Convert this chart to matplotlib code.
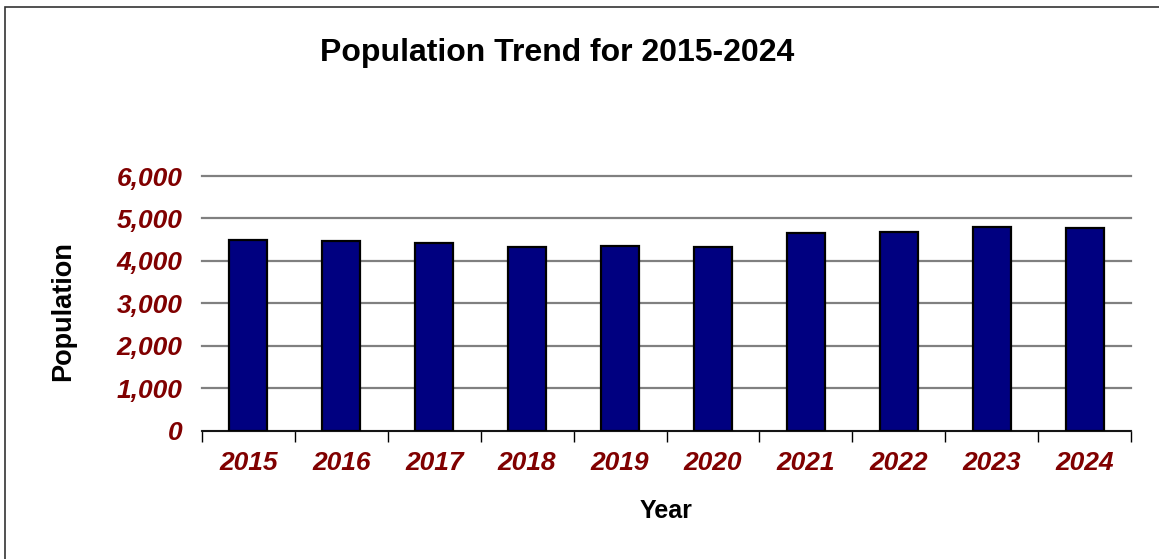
import numpy as np
import matplotlib.pyplot as plt
from matplotlib.patches import Rectangle
from matplotlib.ticker import FuncFormatter

# Population by year
years = ["2015", "2016", "2017", "2018", "2019", "2020", "2021", "2022", "2023", "2024"]
population = [4490, 4460, 4420, 4330, 4350, 4330, 4650, 4690, 4795, 4780]
y_ticks = [0, 1000, 2000, 3000, 4000, 5000, 6000]

W, H = 1159, 559
plt.rcParams["font.family"] = ["Liberation Sans", "DejaVu Sans"]

fig = plt.figure(figsize=(W / 100, H / 100), dpi=100)
fig.patch.set_facecolor("white")

# outer frame of the chart area
fig.add_artist(Rectangle((5 / W, -0.1), 1.2, 1 - 7 / H + 0.1, transform=fig.transFigure,
                         fill=False, edgecolor="#333333", linewidth=1.2))

ax = fig.add_axes([202 / W, 1 - 430.5 / H, (1131 - 202) / W, (430.5 - 176) / H])
x = np.arange(len(years))
ax.bar(x, population, width=0.41, color="#000080", edgecolor="black", linewidth=1.6, zorder=3)

ax.set_xlim(-0.5, len(years) - 0.5)
ax.set_ylim(0, 6000)
ax.set_yticks(y_ticks)
ax.yaxis.set_major_formatter(FuncFormatter(lambda v, p: f"{int(v):,}"))
ax.grid(axis="y", color="#808080", linewidth=1.6, zorder=0)
for line in ax.get_ygridlines():
    line.set_clip_on(False)

# category boundaries carry the tick marks, centres carry the labels
ax.set_xticks(np.arange(len(years) + 1) - 0.5)
ax.set_xticklabels([])
ax.set_xticks(x, minor=True)
ax.set_xticklabels(years, minor=True)
ax.tick_params(axis="x", which="major", length=8, width=1, color="black", direction="out")
ax.tick_params(axis="x", which="minor", length=0, pad=15)
ax.tick_params(axis="y", length=0, pad=14)

label_font = dict(fontsize=19, fontweight="bold", fontstyle="italic", color="#800000")
for lbl in ax.get_xticklabels(minor=True) + ax.get_yticklabels():
    lbl.set(**label_font)

for side in ("left", "right", "top"):
    ax.spines[side].set_visible(False)
ax.spines["bottom"].set_linewidth(1.2)

fig.text(557 / W, 1 - 53 / H, "Population Trend for 2015-2024", ha="center", va="center",
         fontsize=23, fontweight="bold")
fig.text(63 / W, 1 - 311 / H, "Population", ha="center", va="center", rotation=90,
         fontsize=19.5, fontweight="bold")
fig.text(666 / W, 1 - 511 / H, "Year", ha="center", va="center",
         fontsize=18, fontweight="bold")

fig.savefig("out.png", dpi=100)
